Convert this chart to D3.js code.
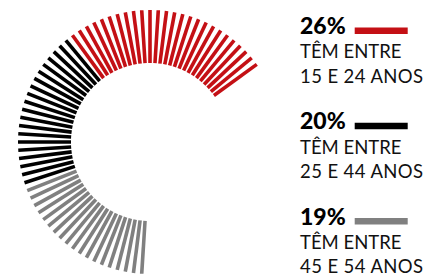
<!DOCTYPE html>
<html>
<head>
<meta charset="utf-8">
<script src="https://cdn.jsdelivr.net/npm/d3@7"></script>
<style>
html,body{margin:0;padding:0;background:#fff;}
svg{display:block;}
</style>
</head>
<body>
<svg id="chart" width="434" height="277"></svg>
<script>
// ---- data ----
const percents = [26, 20, 19];
const ageRanges = ["15 E 24 ANOS", "25 E 44 ANOS", "45 E 54 ANOS"];
const prefixLabel = ["TÊM ENTRE", "TÊM ENTRE", "TÊM ENTRE"];
const groupColors = ["#c41015", "#000000", "#808080"];

// ---- layout ----
const W = 434, H = 277;
const cx = 150, cy = 142;
const innerR = 79, outerR = 132;
const startDeg = 54; // first bar angle (clockwise from top)

const svg = d3.select("#chart");

// one bar per percentage point; full circle = 100 points
const bars = [];
percents.forEach((p, g) => {
  for (let k = 0; k < p; k++) bars.push({group: g});
});
bars.forEach((b, i) => b.idx = i);

const angle = d3.scaleLinear()
  .domain([0, 100])
  .range([startDeg * Math.PI / 180, (startDeg - 360) * Math.PI / 180]);
const radius = d3.scaleLinear().domain([0, 1]).range([innerR, outerR]);

const ring = svg.append("g").attr("transform", `translate(${cx},${cy})`);
ring.selectAll("line").data(bars).join("line")
  .attr("x1", d => d3.pointRadial(angle(d.idx), radius(0))[0])
  .attr("y1", d => d3.pointRadial(angle(d.idx), radius(0))[1])
  .attr("x2", d => d3.pointRadial(angle(d.idx), radius(1))[0])
  .attr("y2", d => d3.pointRadial(angle(d.idx), radius(1))[1])
  .attr("stroke", d => groupColors[d.group])
  .attr("stroke-width", 3.6)
  .attr("stroke-linecap", "butt");

// ---- legend ----
const font = "Lato, 'Open Sans', sans-serif";
const legendX = 300;
const baseY = d3.scaleLinear().domain([0, 2]).range([34, 224.5]);

percents.forEach((p, g) => {
  const y0 = baseY(g);
  const lg = svg.append("g");
  const t = lg.append("text")
    .attr("x", legendX).attr("y", y0)
    .attr("font-family", font).attr("font-weight", 900)
    .attr("font-size", 23).attr("fill", "#000")
    .text(p + "%");
  const tw = t.node().getComputedTextLength();
  lg.append("rect")
    .attr("x", legendX + tw + 9).attr("y", y0 - 6.5)
    .attr("width", 53).attr("height", 6.5)
    .attr("fill", groupColors[g]);
  lg.append("text")
    .attr("x", legendX).attr("y", y0 + 24.3)
    .attr("font-family", font).attr("font-size", 18.5).attr("fill", "#111")
    .text(prefixLabel[g]);
  lg.append("text")
    .attr("x", legendX).attr("y", y0 + 48.5)
    .attr("font-family", font).attr("font-size", 18.5).attr("fill", "#111")
    .attr("letter-spacing", 0.4)
    .text(ageRanges[g]);
});
</script>
</body>
</html>
